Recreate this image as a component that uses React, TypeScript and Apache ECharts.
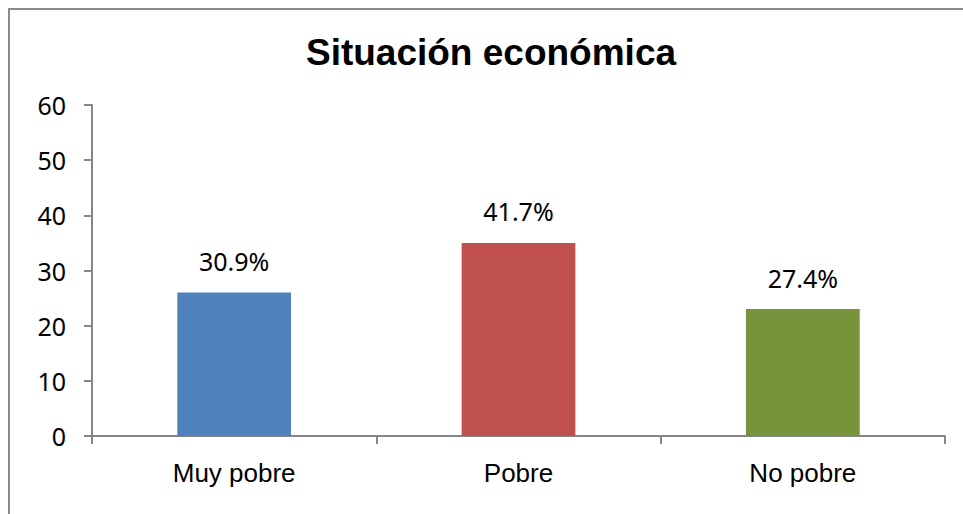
import React, { useEffect, useRef } from "react";
import * as echarts from "echarts";

const titleText = "Situación económica";
const categories = ["Muy pobre", "Pobre", "No pobre"];
const values = [26, 35, 23];
const valueLabels = ["30.9%", "41.7%", "27.4%"];
const barColors = ["#4F81BD", "#C0504D", "#77933C"];
const yTicks = { min: 0, max: 60, interval: 10 };

export default function App() {
  const ref = useRef<HTMLDivElement>(null);
  useEffect(() => {
    if (!ref.current) return;
    const chart = echarts.init(ref.current, null, { renderer: "svg" });
    const axisGrey = "#868686";
    chart.setOption({
      animation: false,
      backgroundColor: "#ffffff",
      graphic: [
        {
          type: "rect",
          shape: { x: 9, y: 9, width: 1200, height: 800 },
          style: { fill: "none", stroke: "#8a8a8a", lineWidth: 2 },
          silent: true,
          z: 0,
        },
        {
          type: "text",
          x: 491,
          y: 52,
          style: {
            text: titleText,
            font: "bold 37px 'Liberation Sans', Arial, sans-serif",
            fill: "#000000",
            textAlign: "center",
            textVerticalAlign: "middle",
          },
          z: 10,
        },
      ],
      grid: { left: 92, right: 18, top: 105, bottom: 78, containLabel: false },
      xAxis: {
        type: "category",
        data: categories,
        boundaryGap: true,
        axisLine: { show: true, lineStyle: { color: axisGrey, width: 2 } },
        axisTick: { show: true, length: 8, inside: false, lineStyle: { color: axisGrey, width: 2 } },
        axisLabel: {
          margin: 24,
          color: "#000000",
          fontFamily: "'Liberation Sans', Arial, sans-serif",
          fontSize: 26,
        },
        splitLine: { show: false },
      },
      yAxis: {
        type: "value",
        min: yTicks.min,
        max: yTicks.max,
        interval: yTicks.interval,
        axisLine: { show: true, lineStyle: { color: axisGrey, width: 2 } },
        axisTick: { show: true, length: 8, inside: false, lineStyle: { color: axisGrey, width: 2 } },
        axisLabel: {
          margin: 26,
          color: "#000000",
          fontFamily: "'Noto Sans', sans-serif",
          fontSize: 25,
        },
        splitLine: { show: false },
      },
      series: [
        {
          type: "bar",
          barWidth: "40%",
          data: values.map((v, i) => ({
            value: v,
            itemStyle: { color: barColors[i] },
          })),
          label: {
            show: true,
            position: "top",
            distance: 19,
            color: "#000000",
            fontFamily: "'Noto Sans', sans-serif",
            fontSize: 25,
            formatter: (p: any) => valueLabels[p.dataIndex],
          },
        },
      ],
    });
    return () => chart.dispose();
  }, []);
  return (
    <div
      ref={ref}
      style={{ position: "fixed", left: 0, top: 0, width: 963, height: 514 }}
    />
  );
}
